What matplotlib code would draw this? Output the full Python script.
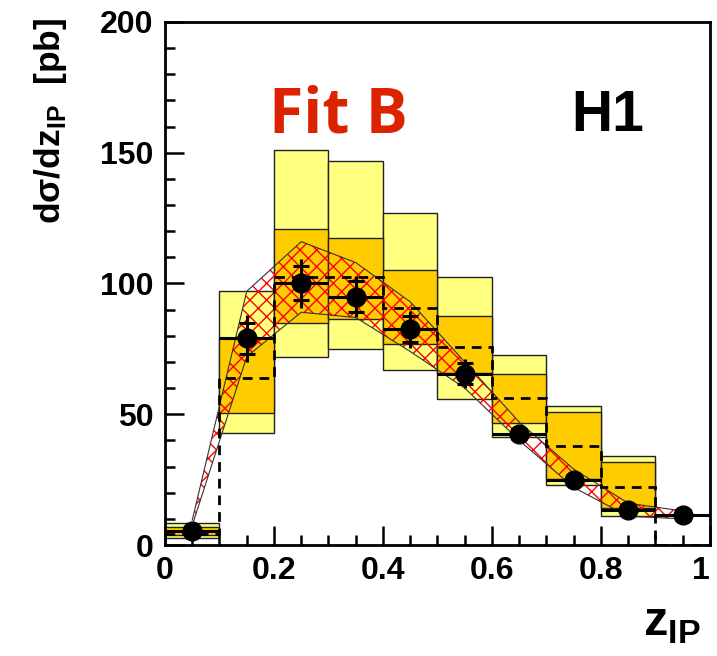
import numpy as np
import matplotlib
matplotlib.use('Agg')
import matplotlib.pyplot as plt
from matplotlib.ticker import MultipleLocator

plt.rcParams['font.family'] = ['Liberation Sans', 'DejaVu Sans']
plt.rcParams['mathtext.fontset'] = 'custom'
plt.rcParams['mathtext.rm'] = 'Liberation Sans:bold'
plt.rcParams['mathtext.bf'] = 'Liberation Sans:bold'
plt.rcParams['hatch.linewidth'] = 1.0

# bins in z_IP
edges = np.round(np.arange(0, 1.01, 0.1), 2)
centers = 0.5 * (edges[:-1] + edges[1:])

# prediction: outer (light) and inner (dark) uncertainty boxes, central value (dashed)
outer_lo = [2.8, 43, 72, 75, 67, 55.8, 41.3, 23, 11.1, 0]
outer_hi = [8.5, 97, 151, 147, 127, 102.5, 72.7, 53, 34, 0]
inner_lo = [3.8, 50.5, 85, 86.5, 77, 65.8, 46.6, 25.2, 14.1, 0]
inner_hi = [7.0, 79, 121, 117.5, 105, 87.6, 65.4, 51, 31.7, 0]
central = [4.3, 64, 102.5, 102.5, 90.6, 75.7, 56.2, 37.9, 22.2, 0]

# Fit B band at bin centres
fit_lo = [7.5, 72, 89, 87, 74, 60, 40, 22, 11, 10]
fit_hi = [9.5, 97, 116, 108, 93, 70, 47, 29, 16, 13]

# H1 data
data = [5.5, 79, 100, 95, 82.5, 65.5, 42.5, 25, 13.5, 11.5]
err_tot = [1.5, 9, 9.5, 8, 7, 5.5, 3, 2, 1.5, 2.5]
err_stat = [1.0, 6, 6.5, 6, 5, 4, 2, 1.5, 1, 2]

fig = plt.figure(figsize=(7.17, 6.56), dpi=100)
ax = fig.add_axes([0.2301, 0.1692, 0.7601, 0.7973])

lo = np.array(outer_lo)
hi = np.array(outer_hi)
ax.bar(edges[:-1], hi - lo, bottom=lo, width=0.1, align='edge',
       color='#ffff80', edgecolor='#222222', linewidth=1.0, zorder=1)
lo = np.array(inner_lo)
hi = np.array(inner_hi)
ax.bar(edges[:-1], hi - lo, bottom=lo, width=0.1, align='edge',
       color='#ffcc00', edgecolor='#222222', linewidth=1.0, zorder=2)

# Fit B hatched band
ax.fill_between(centers, fit_lo, fit_hi, facecolor='none', edgecolor='red',
                hatch='xx', linewidth=0, zorder=3)
ax.plot(centers, fit_lo, color='#333333', lw=0.8, zorder=3)
ax.plot(centers, fit_hi, color='#333333', lw=0.8, zorder=3)

ax.stairs(central, edges, color='black', linestyle=(0, (3.5, 2.5)), lw=2.0,
          baseline=None, zorder=4)

# data points
ax.errorbar(centers, data, yerr=err_tot, xerr=0.05, fmt='o', color='black',
            markersize=13.5, elinewidth=2.2, capsize=0, zorder=6)
d = np.array(data)
s = np.array(err_stat)
ax.plot(centers, d + s, '_', color='black', markersize=12, mew=2.2, zorder=6)
ax.plot(centers, d - s, '_', color='black', markersize=12, mew=2.2, zorder=6)

ax.set_xlim(0, 1)
ax.set_ylim(0, 200)
ax.xaxis.set_major_locator(MultipleLocator(0.2))
ax.xaxis.set_minor_locator(MultipleLocator(0.05))
ax.yaxis.set_major_locator(MultipleLocator(50))
ax.yaxis.set_minor_locator(MultipleLocator(10))
ax.tick_params(which='both', direction='in', top=False, right=False,
               width=1.8, labelsize=23, pad=8)
ax.tick_params(which='major', length=14)
ax.tick_params(which='minor', length=7)
ax.set_xticks([0, 0.2, 0.4, 0.6, 0.8, 1.0])
ax.set_xticklabels(['0', '0.2', '0.4', '0.6', '0.8', '1'], fontweight='bold')
ax.get_xticklabels()[-1].set_horizontalalignment('right')
ax.set_yticklabels([str(int(v)) for v in ax.get_yticks()], fontweight='bold')
for sp in ax.spines.values():
    sp.set_linewidth(2.0)

fig.text(0.07, 0.972, 'd\u03c3/dz$_{\\mathbf{IP}}$  [pb]', rotation=90,
         ha='center', va='top', fontsize=25.5, fontweight='bold')
fig.text(0.978, 0.015, r'z$_{\mathbf{IP}}$', ha='right', va='bottom',
         fontsize=35, fontweight='bold')

ax.text(0.19, 0.82, 'Fit B', transform=ax.transAxes, color='#dd2200',
        fontsize=45, fontweight='bold', family=['Open Sans', 'DejaVu Sans'],
        va='center', ha='left')
ax.text(0.745, 0.82, 'H1', transform=ax.transAxes, color='black',
        fontsize=41, fontweight='bold', va='center', ha='left')

fig.savefig('out.png', dpi=100)
